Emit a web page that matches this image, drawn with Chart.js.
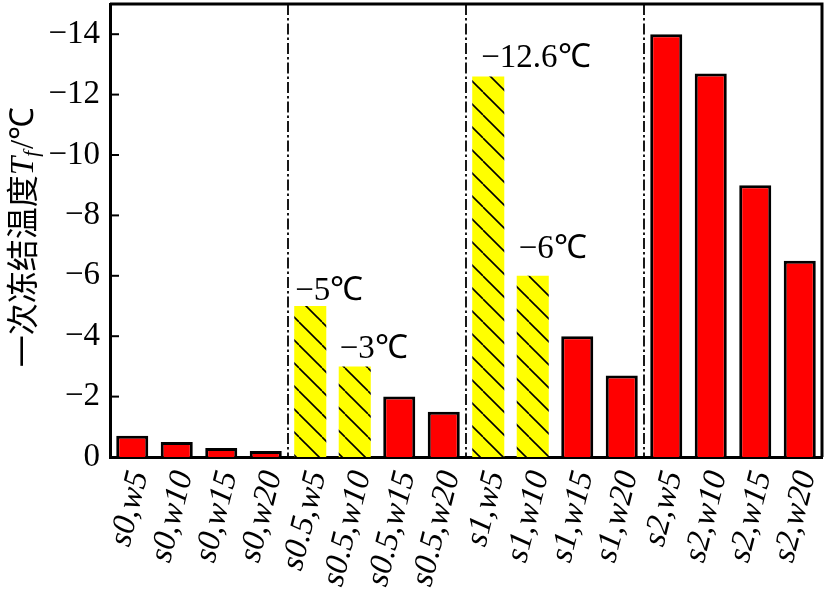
<!DOCTYPE html>
<html>
<head>
<meta charset="utf-8">
<script src="https://cdn.jsdelivr.net/npm/chart.js@4.4.1/dist/chart.umd.min.js"></script>
<style>
  html, body { margin: 0; padding: 0; background: #fff; }
  #wrap { width: 828px; height: 595px; }
</style>
</head>
<body>
<div id="wrap"><canvas id="myChart" width="828" height="595"></canvas></div>
<script>
// categories (salt content s, water content w)
const categories = ['s0,w5', 's0,w10', 's0,w15', 's0,w20',
                    's0.5,w5', 's0.5,w10', 's0.5,w15', 's0.5,w20',
                    's1,w5', 's1,w10', 's1,w15', 's1,w20',
                    's2,w5', 's2,w10', 's2,w15', 's2,w20'];
// first freezing temperature Tf (℃)
const freezeTemps = [-0.7, -0.5, -0.3, -0.2,
                     -5, -3, -2, -1.5,
                     -12.6, -6, -4, -2.7,
                     -14, -12.7, -9, -6.5];
// bars drawn hatched yellow
const hatchedBars = [4, 5, 8, 9];
// value labels above hatched bars
const barNotes = { 4: '−5℃', 5: '−3℃', 8: '−12.6℃', 9: '−6℃' };
const yTicks = [0, -2, -4, -6, -8, -10, -12, -14];
// group separators sit after these category indexes
const groupEnds = [3, 7, 11];

const SERIF = '"Liberation Serif", "Times New Roman", serif';

// hatch pattern: yellow with "\" lines
function makeHatch() {
    const s = 23;
    const c = document.createElement('canvas');
    c.width = s; c.height = s;
    const g = c.getContext('2d');
    g.fillStyle = '#ffff00';
    g.fillRect(0, 0, s, s);
    g.strokeStyle = '#000';
    g.lineWidth = 1.6;
    [-s, 0, s].forEach(k => {
        g.beginPath();
        g.moveTo(k, 0);
        g.lineTo(k + s, s);
        g.stroke();
    });
    return document.getElementById('myChart').getContext('2d').createPattern(c, 'repeat');
}
const hatch = makeHatch();

const fills = categories.map((c, i) => hatchedBars.includes(i) ? hatch : '#ff0000');
const borders = categories.map((c, i) => hatchedBars.includes(i) ? 0 : 3);

// frame, inward ticks, separators, notes, y title
const decorations = {
    id: 'decorations',
    afterDatasetsDraw(chart) {
        const ctx = chart.ctx;
        const a = chart.chartArea;
        const xs = chart.scales.x, ys = chart.scales.y;
        ctx.save();

        // dash-dot separators between groups
        ctx.strokeStyle = '#000';
        ctx.lineWidth = 1.8;
        ctx.setLineDash([11, 3, 2.5, 3]);
        groupEnds.forEach(i => {
            const x = (xs.getPixelForValue(i) + xs.getPixelForValue(i + 1)) / 2;
            ctx.beginPath();
            ctx.moveTo(x, a.top);
            ctx.lineTo(x, a.bottom);
            ctx.stroke();
        });
        ctx.setLineDash([]);

        // frame on top and right
        ctx.lineWidth = 3;
        ctx.beginPath();
        ctx.moveTo(a.left, a.top);
        ctx.lineTo(a.right, a.top);
        ctx.lineTo(a.right, a.bottom);
        ctx.stroke();

        // inward ticks
        ctx.lineWidth = 2;
        yTicks.forEach(v => {
            if (v === 0) return;
            const y = ys.getPixelForValue(v);
            ctx.beginPath();
            ctx.moveTo(a.left, y);
            ctx.lineTo(a.left + 9, y);
            ctx.stroke();
        });

        // notes on hatched bars
        const shift = { 4: [1, 6], 5: [1, 8], 8: [9, 9], 9: [2, 18] };
        const meta = chart.getDatasetMeta(0);
        ctx.fillStyle = '#000';
        ctx.font = '33px ' + SERIF;
        ctx.textAlign = 'left';
        ctx.textBaseline = 'alphabetic';
        Object.keys(barNotes).forEach(k => {
            const bar = meta.data[k];
            const d = shift[k] || [0, 8];
            ctx.fillText(barNotes[k], bar.x - bar.width / 2 + d[0], bar.y - d[1]);
        });

        // y axis title: 一次冻结温度Tf/℃
        ctx.translate(22, 237);
        ctx.rotate(-Math.PI / 2);
        const cjk = '32px "Noto Sans CJK SC", sans-serif';
        const part1 = '一次冻结温度';
        ctx.font = cjk;
        const w1 = ctx.measureText(part1).width;
        ctx.font = 'italic 33px ' + SERIF;
        const wT = ctx.measureText('T').width;
        ctx.font = 'italic 21px ' + SERIF;
        const wf = ctx.measureText('f').width;
        ctx.font = '33px ' + SERIF;
        const w3 = ctx.measureText('/℃').width;
        let x = -(w1 + wT + wf + w3 + 2) / 2;
        ctx.textBaseline = 'middle';
        ctx.font = cjk;
        ctx.fillText(part1, x, 0);
        x += w1;
        ctx.textBaseline = 'alphabetic';
        ctx.font = 'italic 33px ' + SERIF;
        ctx.fillText('T', x, 11);
        x += wT;
        ctx.font = 'italic 21px ' + SERIF;
        ctx.fillText('f', x, 16);
        x += wf + 2;
        ctx.font = '33px ' + SERIF;
        ctx.fillText('/℃', x, 11);

        ctx.restore();
    }
};

new Chart(document.getElementById('myChart'), {
    type: 'bar',
    data: {
        labels: categories,
        datasets: [{
            data: freezeTemps,
            backgroundColor: fills,
            borderColor: '#000',
            borderWidth: borders,
            borderSkipped: 'start',
            barPercentage: 0.72,
            categoryPercentage: 1.0
        }]
    },
    options: {
        responsive: false,
        animation: false,
        devicePixelRatio: 1,
        layout: { padding: { top: 4, right: 6, left: 0, bottom: 0 } },
        plugins: {
            legend: { display: false },
            tooltip: { enabled: false }
        },
        scales: {
            x: {
                grid: { display: false },
                border: { display: true, color: '#000', width: 3 },
                ticks: {
                    color: '#000',
                    font: { family: SERIF, size: 33, style: 'italic' },
                    minRotation: 76,
                    maxRotation: 76,
                    padding: 2,
                    labelOffset: 7,
                    autoSkip: false
                },
                afterFit(s) { s.height = 138; s.paddingLeft = 0; s.paddingRight = 0; }
            },
            y: {
                min: -15,
                max: 0,
                reverse: true,
                grid: { display: false, drawTicks: false },
                border: { display: true, color: '#000', width: 3 },
                afterBuildTicks(s) { s.ticks = yTicks.map(v => ({ value: v })); },
                ticks: {
                    color: '#000',
                    padding: 10,
                    font: { family: SERIF, size: 33 },
                    callback: v => v === 0 ? '0' : '−' + Math.abs(v)
                },
                afterFit(s) { s.width = 110; s.paddingTop = 0; s.paddingBottom = 0; }
            }
        }
    },
    plugins: [decorations]
});
</script>
</body>
</html>
